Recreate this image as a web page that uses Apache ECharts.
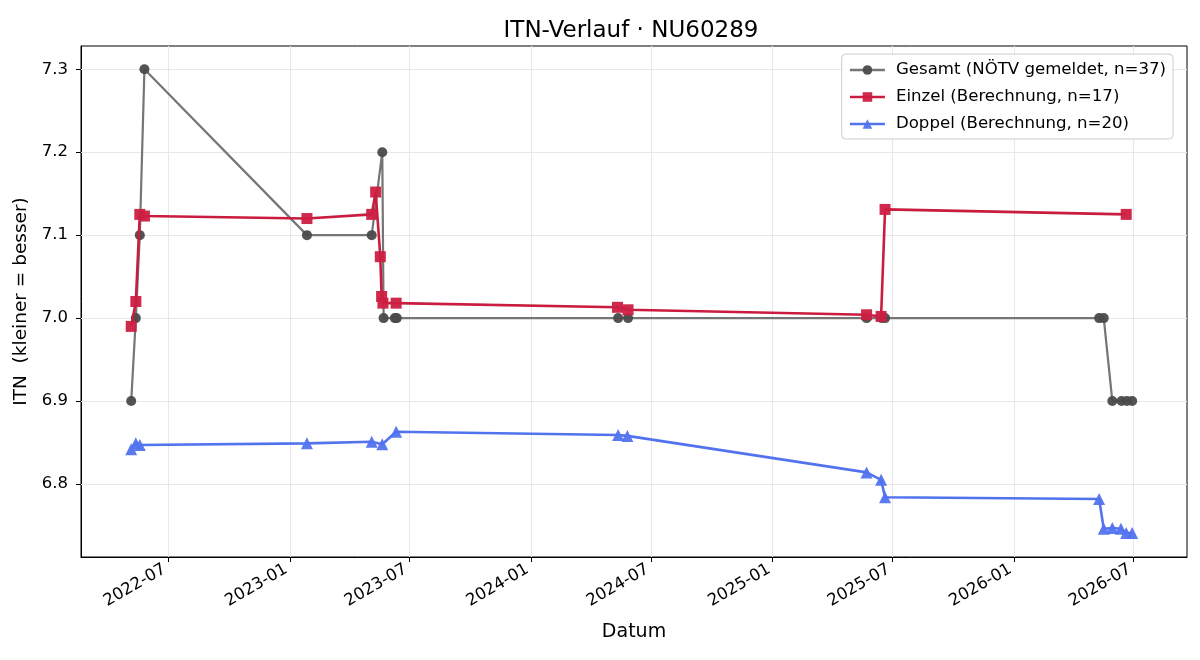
<!DOCTYPE html>
<html>
<head>
<meta charset="utf-8">
<script src="https://cdn.jsdelivr.net/npm/echarts@6/dist/echarts.min.js"></script>
<style>
    html, body { margin: 0; padding: 0; background: #fff; }
    #itn-chart { width: 1200px; height: 660px; }
</style>
</head>
<body>
<div id="itn-chart"></div>
<script>
    // Gesamt (NÖTV gemeldet)
    const gesamtDates = ['2022-05-06', '2022-05-13', '2022-05-19', '2022-05-26', '2023-01-27', '2023-05-05',
        '2023-05-21', '2023-05-23', '2023-06-09', '2023-06-12', '2024-05-12', '2024-05-27', '2025-05-23',
        '2025-06-15', '2025-06-20', '2026-05-10', '2026-05-17', '2026-05-30', '2026-06-13', '2026-06-21', '2026-06-29']
    const gesamtValues = [6.9, 7.0, 7.1, 7.3, 7.1, 7.1, 7.2, 7.0, 7.0, 7.0, 7.0, 7.0, 7.0, 7.0, 7.0, 7.0, 7.0,
        6.9, 6.9, 6.9, 6.9]

    // Einzel (Berechnung)
    const einzelDates = ['2022-05-06', '2022-05-13', '2022-05-19', '2022-05-26', '2023-01-27', '2023-05-05',
        '2023-05-11', '2023-05-18', '2023-05-20', '2023-05-22', '2023-06-11', '2024-05-11', '2024-05-27',
        '2025-05-23', '2025-06-14', '2025-06-20', '2026-06-20']
    const einzelValues = [6.990, 7.020, 7.125, 7.123, 7.120, 7.125, 7.152, 7.074, 7.026, 7.018, 7.018,
        7.013, 7.010, 7.004, 7.002, 7.131, 7.125]

    // Doppel (Berechnung)
    const doppelDates = ['2022-05-06', '2022-05-13', '2022-05-19', '2023-01-27', '2023-05-05', '2023-05-21',
        '2023-06-11', '2024-05-12', '2024-05-26', '2025-05-23', '2025-06-14', '2025-06-20', '2026-05-10',
        '2026-05-17', '2026-05-30', '2026-06-12', '2026-06-20', '2026-06-29']
    const doppelValues = [6.842, 6.849, 6.847, 6.849, 6.851, 6.848, 6.863, 6.859, 6.858, 6.814, 6.805,
        6.784, 6.782, 6.746, 6.747, 6.746, 6.741, 6.741]

    const xTickLabels = ['2022-07', '2023-01', '2023-07', '2024-01', '2024-07', '2025-01', '2025-07', '2026-01', '2026-07']
    const yTickValues = [6.8, 6.9, 7.0, 7.1, 7.2, 7.3]

    const legendNames = ['Gesamt (NÖTV gemeldet, n=37)', 'Einzel (Berechnung, n=17)', 'Doppel (Berechnung, n=20)']

    const toTime = s => Date.UTC(+s.slice(0, 4), +s.slice(5, 7) - 1, s.length > 7 ? +s.slice(8, 10) : 1)
    const pair = (dates, values) => dates.map((d, i) => [toTime(d), values[i]])
    const xTicks = xTickLabels.map(toTime)

    const font = 'DejaVu Sans'
    const gridColor = '#e8e8e8'

    let chart = echarts.init(document.getElementById('itn-chart'), null, {renderer: 'canvas'})

    let option = {
        backgroundColor: '#fff',
        animation: false,
        textStyle: {fontFamily: font},
        title: {
            text: 'ITN-Verlauf · NU60289',
            left: 626,
            top: 15,
            textAlign: 'center',
            textStyle: {fontFamily: font, fontSize: 23, fontWeight: 'normal', color: '#000'}
        },
        grid: {
            left: 81, right: 13, top: 46, bottom: 103,
            show: true, borderColor: '#000', borderWidth: 1, backgroundColor: 'transparent'
        },
        legend: {
            data: legendNames,
            orient: 'vertical',
            right: 27,
            top: 54,
            z: 20,
            padding: [6, 7, 5, 7],
            itemGap: 7,
            itemWidth: 35,
            itemHeight: 12,
            lineStyle: {width: 2.5},
            backgroundColor: 'rgba(255,255,255,0.9)',
            borderColor: '#cccccc',
            borderWidth: 1,
            borderRadius: 4,
            textStyle: {fontFamily: font, fontSize: 16.6, lineHeight: 20, color: '#000', padding: [0, 0, 0, 6]}
        },
        xAxis: {
            type: 'value',
            min: toTime('2022-02-19'),
            max: toTime('2026-09-20'),
            name: 'Datum',
            nameLocation: 'middle',
            nameGap: 66,
            nameTextStyle: {fontFamily: font, fontSize: 19, color: '#000'},
            axisLine: {show: true, onZero: false, lineStyle: {color: '#000', width: 1}},
            axisTick: {show: true, length: 5, lineStyle: {color: '#000'}, customValues: xTicks},
            axisLabel: {
                customValues: xTicks,
                rotate: 30,
                margin: 9,
                padding: [0, 4, 0, 0],
                fontFamily: font,
                fontSize: 16.5,
                color: '#000',
                formatter: v => {
                    let d = new Date(v)
                    return d.getUTCFullYear() + '-' + String(d.getUTCMonth() + 1).padStart(2, '0')
                }
            },
            splitLine: {show: false}
        },
        yAxis: {
            type: 'value',
            min: 6.712,
            max: 7.328,
            name: 'ITN  (kleiner = besser)',
            nameLocation: 'middle',
            nameGap: 43,
            nameTextStyle: {fontFamily: font, fontSize: 18.5, color: '#000'},
            axisLine: {show: true, lineStyle: {color: '#000', width: 1}},
            axisTick: {show: true, length: 5, lineStyle: {color: '#000'}, customValues: yTickValues},
            axisLabel: {
                customValues: yTickValues,
                margin: 13,
                fontFamily: font,
                fontSize: 16.5,
                color: '#000',
                formatter: v => v.toFixed(1)
            },
            splitLine: {show: false}
        },
        series: [
            {
                // grid lines drawn through the axes' own scales
                name: 'grid',
                type: 'line',
                data: [],
                silent: true,
                z: 1,
                markLine: {
                    silent: true,
                    z: 1,
                    symbol: 'none',
                    label: {show: false},
                    lineStyle: {color: gridColor, width: 1, type: 'solid'},
                    data: xTicks.map(t => ({xAxis: t})).concat(yTickValues.map(v => ({yAxis: v})))
                }
            },
            {
                name: legendNames[0],
                type: 'line',
                data: pair(gesamtDates, gesamtValues),
                symbol: 'circle',
                symbolSize: 10,
                z: 3,
                lineStyle: {color: '#757575', width: 2.2},
                itemStyle: {color: '#4a4a4a', opacity: 0.95}
            },
            {
                name: legendNames[1],
                type: 'line',
                data: pair(einzelDates, einzelValues),
                symbol: 'rect',
                symbolSize: 11,
                z: 4,
                lineStyle: {color: '#c91c3e', width: 2.6},
                itemStyle: {color: '#cc1f42', opacity: 0.95}
            },
            {
                name: legendNames[2],
                type: 'line',
                data: pair(doppelDates, doppelValues),
                symbol: 'triangle',
                symbolSize: 12,
                z: 5,
                lineStyle: {color: '#5273ee', width: 2.6},
                itemStyle: {color: '#5273ee', opacity: 0.95}
            }
        ]
    }

    chart.setOption(option)
</script>
</body>
</html>
